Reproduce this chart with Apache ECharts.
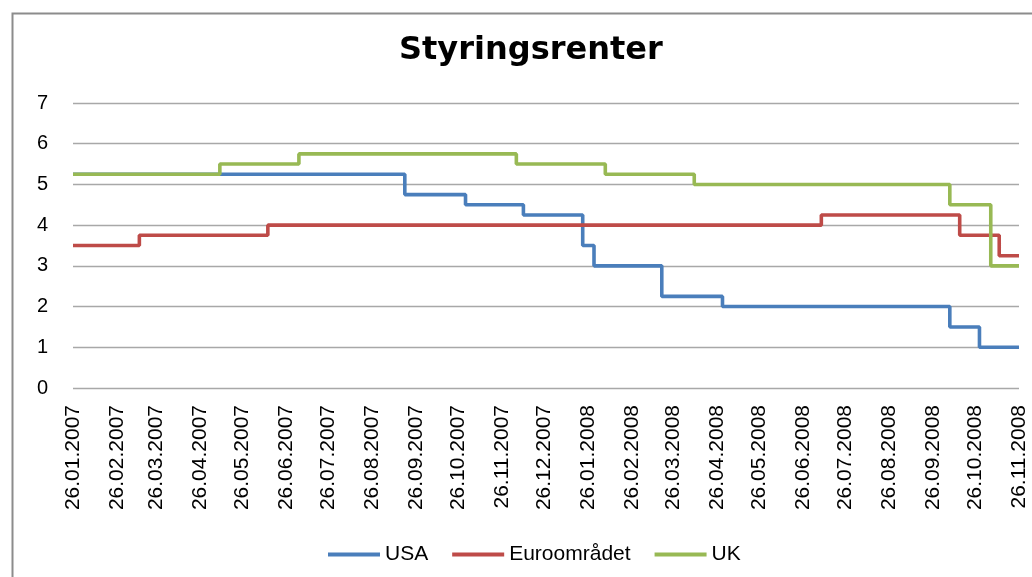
<!DOCTYPE html>
<html>
<head>
<meta charset="utf-8">
<script src="https://cdn.jsdelivr.net/npm/echarts@6/dist/echarts.min.js"></script>
<style>
html,body{margin:0;padding:0;background:#fff;}
#chart{width:1032px;height:577px;}
</style>
</head>
<body>
<div id="chart"></div>
<script>
// Axis range and tick labels (monthly, the 26th)
const startDate = '2007-01-26';
const endDate = '2008-11-26';
const tickDates = ['2007-01-26','2007-02-26','2007-03-26','2007-04-26','2007-05-26','2007-06-26',
  '2007-07-26','2007-08-26','2007-09-26','2007-10-26','2007-11-26','2007-12-26',
  '2008-01-26','2008-02-26','2008-03-26','2008-04-26','2008-05-26','2008-06-26',
  '2008-07-26','2008-08-26','2008-09-26','2008-10-26','2008-11-26'];

// Policy rates: dates of changes and new level
const usaDates  = ['2007-01-26','2007-09-18','2007-10-31','2007-12-11','2008-01-22','2008-01-30','2008-03-18','2008-04-30','2008-10-08','2008-10-29','2008-11-26'];
const usaRates  = [5.25, 4.75, 4.50, 4.25, 3.50, 3.00, 2.25, 2.00, 1.50, 1.00, 1.00];

const euroDates = ['2007-01-26','2007-03-14','2007-06-13','2008-07-09','2008-10-15','2008-11-12','2008-11-26'];
const euroRates = [3.50, 3.75, 4.00, 4.25, 3.75, 3.25, 3.25];

const ukDates   = ['2007-01-26','2007-05-10','2007-07-05','2007-12-06','2008-02-07','2008-04-10','2008-10-08','2008-11-06','2008-11-26'];
const ukRates   = [5.25, 5.50, 5.75, 5.50, 5.25, 5.00, 4.50, 3.00, 3.00];

const seriesNames = ['USA', 'Euroområdet', 'UK'];
const colors = ['#4A7EBB', '#BE4B48', '#98B954'];

function ts(s){ const p = s.split('-'); return new Date(+p[0], +p[1]-1, +p[2]).getTime(); }
function pairs(d, v){ return d.map((x,i)=>[ts(x), v[i]]); }
function pad(n){ return (n<10?'0':'')+n; }
function fmt(v){ const d = new Date(v); return pad(d.getDate())+'.'+pad(d.getMonth()+1)+'.'+d.getFullYear(); }

const allData = [pairs(usaDates, usaRates), pairs(euroDates, euroRates), pairs(ukDates, ukRates)];

const chart = echarts.init(document.getElementById('chart'), null, {renderer:'canvas'});
chart.setOption({
  animation: false,
  backgroundColor: '#fff',
  graphic: [{
    type: 'rect', left: 10, top: 11, silent: true,
    shape: {x:0, y:0, width: 1040, height: 600},
    style: {fill: 'none', stroke: '#8c8c8c', lineWidth: 2}
  }],
  title: {
    text: 'Styringsrenter', left: 394, top: 30,
    textStyle: {fontFamily: 'DejaVu Sans', fontWeight: 'bold', fontSize: 32, color: '#000'}
  },
  legend: {
    data: seriesNames, bottom: 7, left: 323,
    icon: 'rect', itemWidth: 52, itemHeight: 4, itemGap: 24,
    textStyle: {fontFamily: 'Liberation Sans', fontSize: 21, color: '#000'}
  },
  grid: {left: 73, right: 13, top: 103, bottom: 189, containLabel: false},
  xAxis: {
    type: 'value', min: ts(startDate), max: ts(endDate), scale: true,
    axisLine: {show: false}, axisTick: {show: false}, splitLine: {show: false},
    axisLabel: {
      customValues: tickDates.map(ts), rotate: 90, margin: 17,
      formatter: fmt, fontFamily: 'Liberation Sans', fontSize: 21, color: '#000',
      showMinLabel: true, showMaxLabel: true, hideOverlap: false
    }
  },
  yAxis: {
    type: 'value', min: 0, max: 7, interval: 1,
    axisLine: {show: false}, axisTick: {show: false},
    splitLine: {lineStyle: {color: '#A8A8A8', width: 1.3}},
    axisLabel: {margin: 25, fontFamily: 'Liberation Sans', fontSize: 20, color: '#000'}
  },
  series: seriesNames.map((n,i)=>({
    name: n, type: 'line', step: 'end', data: allData[i],
    showSymbol: false, symbol: 'none',
    lineStyle: {color: colors[i], width: 3.6},
    itemStyle: {color: colors[i]}
  }))
});
</script>
</body>
</html>
